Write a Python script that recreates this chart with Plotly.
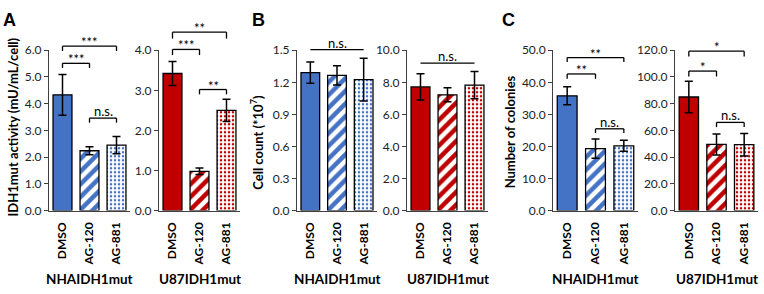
import plotly.graph_objects as go

categories = ["DMSO", "AG-120", "AG-881"]
cell_lines = ["NHAIDH1mut", "U87IDH1mut"]

# Panel A: IDH1mut activity (mU/mL/cell)
a_nha_mean = [4.33, 2.24, 2.45]
a_nha_err = [0.76, 0.15, 0.32]
a_u87_mean = [3.42, 0.98, 2.50]
a_u87_err = [0.30, 0.08, 0.28]

# Panel B: cell count (*10^7)
b_nha_mean = [1.29, 1.265, 1.225]
b_nha_err = [0.10, 0.09, 0.20]
b_u87_mean = [7.71, 7.22, 7.83]
b_u87_err = [0.82, 0.44, 0.85]

# Panel C: number of colonies
c_nha_mean = [35.8, 19.3, 20.2]
c_nha_err = [2.8, 3.0, 1.7]
c_u87_mean = [85.0, 49.5, 49.3]
c_u87_err = [11.8, 7.8, 8.4]

# y ticks
a_nha_ticks = [0, 1, 2, 3, 4, 5, 6]
a_u87_ticks = [0, 1, 2, 3, 4]
b_nha_ticks = [0, 0.3, 0.6, 0.9, 1.2, 1.5]
b_u87_ticks = [0, 2, 4, 6, 8, 10]
c_nha_ticks = [0, 10, 20, 30, 40, 50]
c_u87_ticks = [0, 20, 40, 60, 80, 100, 120]

# significance brackets: (from, to, line height, leg end, label)
a_nha_sig = [(0, 1, 5.51, 5.34, "***"), (0, 2, 6.15, 5.97, "***"), (1, 2, 3.46, 3.29, "n.s.")]
a_u87_sig = [(0, 1, 4.02, 3.88, "***"), (0, 2, 4.45, 4.29, "**"), (1, 2, 3.02, 2.90, "**")]
b_nha_sig = [(0, 2, 1.505, 1.505, "n.s.")]
b_u87_sig = [(0, 2, 9.19, 9.19, "n.s.")]
c_nha_sig = [(0, 1, 42.6, 41.1, "**"), (0, 2, 47.7, 46.3, "**"), (1, 2, 25.5, 24.2, "n.s.")]
c_u87_sig = [(0, 1, 104.4, 100.4, "*"), (0, 2, 119.3, 115.3, "*"), (1, 2, 66.0, 62.5, "n.s.")]

BLUE = "#4472C4"
RED = "#C00000"
W, H = 764, 294
FONT = "Lato"

panels = [
    dict(mean=a_nha_mean, err=a_nha_err, ticks=a_nha_ticks, sig=a_nha_sig, color=BLUE, cl=cell_lines[0], px=(49, 130)),
    dict(mean=a_u87_mean, err=a_u87_err, ticks=a_u87_ticks, sig=a_u87_sig, color=RED, cl=cell_lines[1], px=(159, 240)),
    dict(mean=b_nha_mean, err=b_nha_err, ticks=b_nha_ticks, sig=b_nha_sig, color=BLUE, cl=cell_lines[0], px=(297, 377)),
    dict(mean=b_u87_mean, err=b_u87_err, ticks=b_u87_ticks, sig=b_u87_sig, color=RED, cl=cell_lines[1], px=(407, 488)),
    dict(mean=c_nha_mean, err=c_nha_err, ticks=c_nha_ticks, sig=c_nha_sig, color=BLUE, cl=cell_lines[0], px=(553, 638)),
    dict(mean=c_u87_mean, err=c_u87_err, ticks=c_u87_ticks, sig=c_u87_sig, color=RED, cl=cell_lines[1], px=(675, 758)),
]

ydom = [1 - 213.5 / H, 1 - 44.5 / H]
AXCOL = "#404040"

fig = go.Figure()
shapes = []
annotations = []
xpos = list(range(len(categories)))

for k, p in enumerate(panels):
    n = "" if k == 0 else str(k + 1)
    xa, ya = "x" + n, "y" + n
    ymax = p["ticks"][-1]
    patterns = [
        dict(shape=""),
        dict(shape="/", fgcolor=p["color"], bgcolor="white", size=9, solidity=0.5, fillmode="replace"),
        dict(shape=".", fgcolor=p["color"], bgcolor="white", size=4, solidity=0.3, fillmode="replace"),
    ]
    for i in xpos:
        fig.add_trace(go.Bar(
            x=[xpos[i]], y=[p["mean"][i]], xaxis=xa, yaxis=ya, width=0.7,
            marker=dict(color=p["color"] if i == 0 else "white", pattern=patterns[i],
                        line=dict(color="black", width=1.3)),
            error_y=dict(type="data", array=[p["err"][i]], color="black", thickness=1.5, width=4),
            showlegend=False, hoverinfo="skip",
        ))
    d0, d1 = p["px"]
    fig.update_layout(**{
        ("xaxis" + n): dict(domain=[d0 / W, d1 / W], anchor=ya, range=[-0.5, 2.5],
                            tickvals=xpos, ticktext=categories, tickangle=-90,
                            tickfont=dict(family=FONT, size=12, color="black", weight="bold"),
                            showline=True, linecolor=AXCOL, linewidth=1, ticks="outside",
                            ticklen=6, tickcolor="rgba(0,0,0,0)",
                            showgrid=False, zeroline=False),
        ("yaxis" + n): dict(domain=ydom, anchor=xa, range=[0, ymax], tickvals=p["ticks"],
                            tickformat=".1f", tickfont=dict(family=FONT, size=12, color="#222"),
                            showline=True, linecolor=AXCOL, linewidth=1, ticks="outside",
                            ticklen=4, tickcolor=AXCOL, showgrid=False, zeroline=False),
    })
    for (i, j, yl, yleg, lab) in p["sig"]:
        yr = ya + " domain"
        shapes.append(dict(type="line", xref=xa, yref=yr, x0=i, x1=j, y0=yl / ymax, y1=yl / ymax,
                           line=dict(color="black", width=1.3)))
        if yleg != yl:
            for xx in (i, j):
                shapes.append(dict(type="line", xref=xa, yref=yr, x0=xx, x1=xx, y0=yl / ymax, y1=yleg / ymax,
                                   line=dict(color="black", width=1.3)))
        star = lab.startswith("*")
        annotations.append(dict(xref=xa, yref=yr, x=(i + j) / 2, y=yl / ymax, text=lab, showarrow=False,
                                yanchor="bottom", yshift=-6 if star else -3,
                                font=dict(family=FONT, size=13, color="black")))
    annotations.append(dict(xref=xa + " domain", yref="paper", x=0.5, y=1 - 286 / H, text=p["cl"],
                            showarrow=False, yanchor="middle",
                            font=dict(family=FONT, size=13.5, color="black", weight="bold")))

ytitles = [("IDH1mut activity (mU/mL/cell)", 13, 126), ("Cell count (*10<sup>7</sup>)", 257, 142),
           ("Number of colonies", 510, 130)]
for t, x, y in ytitles:
    annotations.append(dict(xref="paper", yref="paper", x=x / W, y=1 - y / H, text=t, textangle=-90,
                            showarrow=False, xanchor="center", yanchor="middle",
                            font=dict(family=FONT, size=13, color="black", weight="bold")))
for lt, x in [("A", 3), ("B", 252), ("C", 502)]:
    annotations.append(dict(xref="paper", yref="paper", x=x / W, y=1, text=lt, showarrow=False,
                            xanchor="left", yanchor="top", xshift=-2,
                            font=dict(family="Liberation Sans", size=18, color="black", weight="bold")))

fig.update_layout(width=W, height=H, margin=dict(l=0, r=0, t=0, b=0),
                  paper_bgcolor="white", plot_bgcolor="white", shapes=shapes,
                  annotations=annotations, bargap=0.3)
fig.write_html("out.html", config={"displayModeBar": False},
               post_script="document.body.style.margin='0px';")
